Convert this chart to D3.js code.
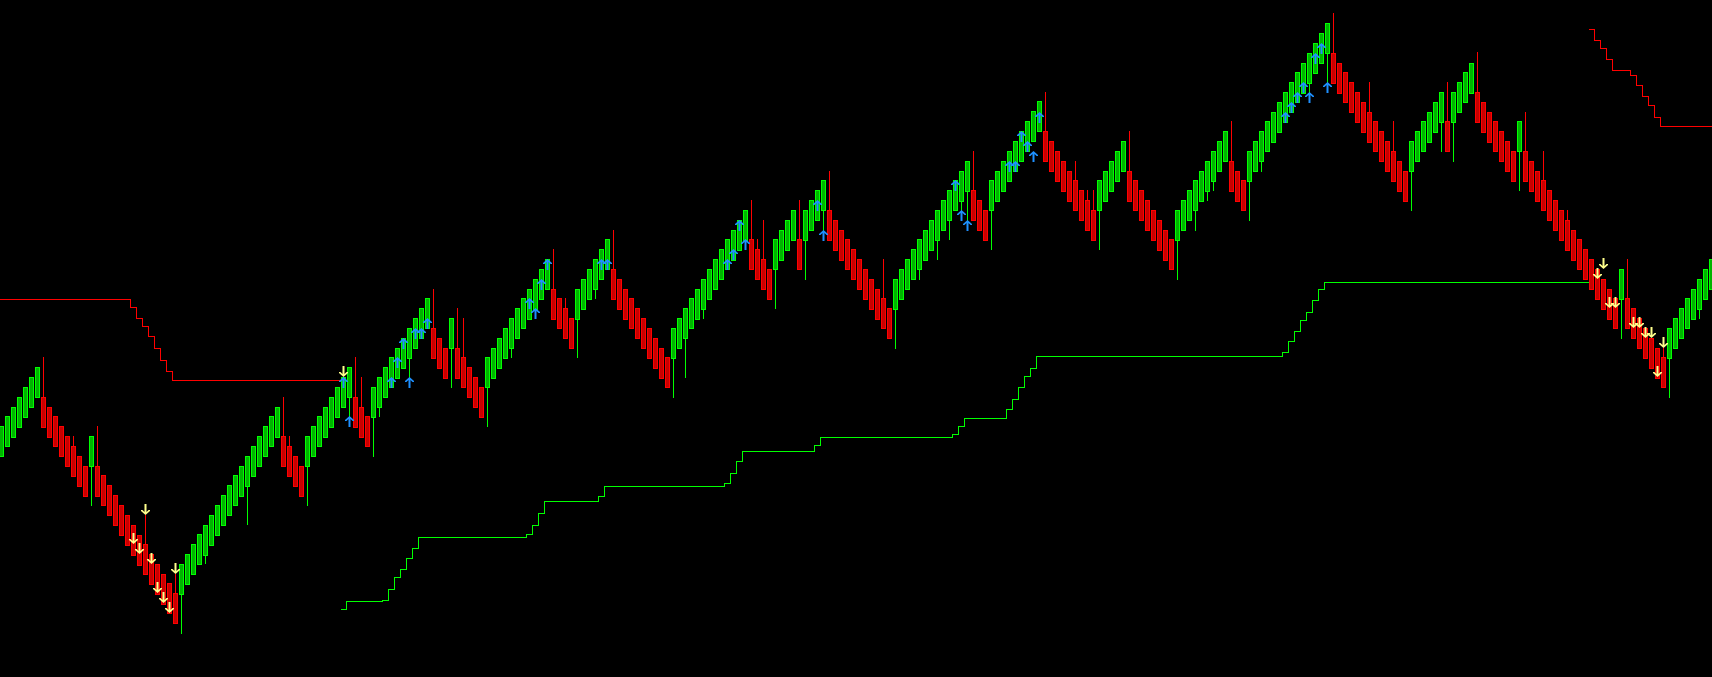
<!DOCTYPE html>
<html>
<head>
<meta charset="utf-8">
<script src="https://cdn.jsdelivr.net/npm/d3@7/dist/d3.min.js"></script>
<style>
html,body{margin:0;padding:0;background:#000;overflow:hidden;}
svg{display:block;}
</style>
</head>
<body>
<svg id="chart" width="1712" height="677"></svg>
<script>
// price values in points
const open = [
244,254,263,273,283,293,303,303,293,284,
274,264,254,244,234,234,234,225,215,205,
195,185,175,165,156,146,136,126,117,107,
106,116,126,136,145,155,165,175,185,195,
204,214,224,234,244,254,263,264,254,244,
234,234,244,254,263,273,283,293,303,303,
293,284,283,293,303,313,322,332,342,352,
362,372,372,362,352,352,352,343,333,323,
313,313,322,332,342,352,362,372,381,391,
401,411,411,402,392,382,381,391,401,411,
421,431,431,421,411,402,392,382,372,362,
352,343,342,352,362,372,381,391,401,411,
421,431,440,450,460,461,451,441,431,431,
440,450,460,461,460,470,480,490,490,480,
470,461,451,441,431,421,411,402,392,391,
401,411,421,431,440,450,460,470,480,490,
499,509,510,500,490,490,499,509,519,529,
539,549,559,569,569,559,549,539,529,520,
510,500,490,490,499,509,519,529,529,520,
510,500,490,480,470,461,460,470,480,490,
499,509,519,529,539,539,529,520,519,529,
539,549,558,568,578,588,598,607,617,627,
637,647,647,637,628,618,608,598,588,579,
569,559,549,539,529,529,539,549,558,568,
578,579,578,588,598,607,608,598,588,579,
569,559,549,549,549,539,529,520,510,500,
490,480,470,461,451,441,431,421,411,402,
401,402,392,382,372,362,352,343,342,352,
362,372,381,391,401,411];
const close = [
274,284,293,303,313,323,333,273,263,254,
244,234,224,214,204,264,204,195,185,175,
165,155,145,135,126,116,106,96,87,77,
136,146,156,166,175,185,195,205,215,225,
234,244,254,264,274,284,293,234,224,214,
204,264,274,284,293,303,313,323,333,273,
263,254,313,323,333,343,352,362,372,382,
392,402,342,332,322,382,322,313,303,293,
283,343,352,362,372,382,392,402,411,421,
431,441,381,372,362,352,411,421,431,441,
451,461,401,391,381,372,362,352,342,332,
322,313,372,382,392,402,411,421,431,441,
451,461,470,480,490,431,421,411,401,461,
470,480,490,431,490,500,510,520,460,450,
440,431,421,411,401,391,381,372,362,421,
431,441,451,461,470,480,490,500,510,520,
529,539,480,470,460,520,529,539,549,559,
569,579,589,599,539,529,519,509,499,490,
480,470,460,520,529,539,549,559,499,490,
480,470,460,450,440,431,490,500,510,520,
529,539,549,559,569,509,499,490,549,559,
569,579,588,598,608,618,628,637,647,657,
667,677,617,607,598,588,578,568,558,549,
539,529,519,509,499,559,569,579,588,598,
608,549,608,618,628,637,578,568,558,549,
539,529,519,579,519,509,499,490,480,470,
460,450,440,431,421,411,401,391,381,372,
431,372,362,352,342,332,322,313,372,382,
392,402,411,421,431,441];
const high = [
274,284,293,303,313,323,333,343,293,284,
274,264,264,244,234,264,274,225,215,205,
195,185,175,165,185,146,136,126,117,126,
136,146,156,166,175,185,195,205,215,225,
234,244,254,264,274,284,293,303,264,244,
234,264,274,284,293,303,313,323,333,343,
323,284,313,323,333,343,352,362,372,382,
392,402,411,362,352,382,392,382,333,323,
313,343,352,362,372,382,392,402,411,421,
431,441,451,402,402,382,411,421,431,441,
451,461,470,421,411,402,392,382,372,362,
352,343,372,382,392,402,411,421,431,441,
451,461,470,480,490,500,461,480,431,461,
470,480,490,500,490,500,510,520,529,480,
470,461,451,441,431,421,411,441,392,421,
431,441,451,461,470,480,490,500,510,520,
529,539,549,500,490,520,529,539,549,559,
569,579,589,599,608,559,549,539,529,539,
510,510,510,520,529,539,549,559,569,520,
510,500,490,480,470,461,490,500,510,520,
529,539,549,559,569,579,529,520,549,559,
569,579,588,598,608,618,628,637,647,657,
667,677,687,637,628,618,608,598,618,579,
569,559,579,539,529,559,569,579,588,598,
608,618,608,618,628,637,648,598,588,579,
569,559,549,579,588,539,529,549,510,500,
490,490,470,461,451,441,431,421,411,402,
431,441,392,382,372,362,352,352,372,382,
392,402,411,421,431,441];
const low = [
244,254,263,273,283,293,303,273,263,254,
244,234,224,214,204,195,204,195,185,175,
165,155,145,135,126,116,106,96,87,77,
67,116,126,136,137,155,165,175,185,195,
204,176,224,234,244,254,263,234,224,214,
204,195,244,254,263,273,283,293,283,273,
263,254,244,284,303,313,322,332,323,352,
362,372,342,332,322,313,322,313,303,293,
283,274,322,332,342,343,362,372,381,391,
401,411,381,372,362,352,343,391,401,402,
421,431,401,391,381,372,362,352,342,332,
322,313,303,352,323,372,381,382,401,411,
421,431,440,450,460,431,421,411,401,392,
440,450,460,431,421,470,480,470,460,450,
440,431,421,411,401,391,381,372,362,352,
401,411,421,421,440,450,441,470,461,490,
490,480,480,470,460,451,499,509,519,529,
539,549,559,569,539,529,519,509,499,490,
480,470,460,451,499,509,519,529,499,490,
480,470,460,450,440,431,421,470,480,470,
499,500,510,529,539,509,499,490,480,529,
529,549,558,568,578,588,598,607,608,627,
637,618,617,607,598,588,578,568,558,549,
539,529,519,509,499,490,539,549,558,568,
549,549,539,588,598,607,578,568,558,549,
539,529,519,510,519,509,499,490,480,470,
460,450,440,431,421,411,401,391,381,372,
362,372,362,352,342,332,322,313,303,352,
362,372,381,382,401,411];

// step lines: [fromBar, toBar, level]
const resistanceRuns = [[0,21,401],[22,22,393],[23,23,382],[24,24,374],[25,25,364],[26,26,352],[27,27,340],[28,28,329],[29,56,320],
  [265,265,671],[266,266,660],[267,267,652],[268,268,641],[269,271,630],[272,272,625],[273,273,615],[274,274,604],[275,275,595],[276,276,583],[277,285,574]];
const supportRuns = [[57,57,91],[58,63,99],[64,64,100],[65,65,111],[66,66,123],[67,67,131],[68,68,142],[69,69,152],[70,87,163],[88,88,166],[89,89,175],[90,90,187],[91,99,199],[100,100,204],[101,120,214],[121,121,217],[122,122,227],[123,123,239],[124,135,249],[136,136,255],[137,158,263],[159,159,266],[160,160,274],[161,167,282],[168,168,291],[169,169,301],[170,170,313],[171,171,324],[172,172,332],[173,213,344],[214,214,348],[215,215,359],[216,216,369],[217,217,380],[218,218,388],[219,219,400],[220,220,411],[221,264,418]];

// signal arrows: [bar, level]
const buyArrows = [[57,323],[58,284],[65,323],[66,343],[67,362],[68,323],[69,372],[70,372],[71,382],[88,402],[89,392],[90,421],[91,441],[100,441],[101,441],[121,441],[122,451],[123,480],[124,461],[136,500],[137,470],[159,520],[160,490],[161,480],[168,539],[169,539],[170,569],[171,559],[172,549],[173,588],[214,588],[215,598],[216,608],[217,618],[218,608],[219,647],[220,657],[221,618]];
const sellArrows = [[22,167],[23,157],[24,196],[25,147],[26,118],[27,108],[28,98],[29,137],[57,334],[266,432],[267,442],[268,403],[269,403],[272,383],[273,383],[274,373],[275,373],[276,334],[277,363]];

const W = 1712, H = 677;
const svg = d3.select('#chart');
svg.append('rect').attr('width', W).attr('height', H).attr('fill', '#000');

const n = open.length;
const x = d3.scaleLinear().domain([0, n - 1]).range([1.5, 1.5 + 6 * (n - 1)]);
const y = d3.scaleLinear().domain([23, 700]).range([677, 0]);

const bars = d3.range(n).map(i => ({i, o: open[i], h: high[i], l: low[i], c: close[i], up: close[i] >= open[i]}));

const colors = {upStroke: '#00ff00', upFill: '#00b400', dnStroke: '#ff0000', dnFill: '#c80000'};

// step lines
function stepPaths(runs) {
  const segs = [];
  let cur = null, prevTo = null;
  runs.forEach(r => {
    if (cur === null || r[0] !== prevTo + 1) { cur = []; segs.push(cur); }
    cur.push([x(r[0]) - 3, y(r[2]) + 0.5]);
    cur.push([x(r[1]) + 3, y(r[2]) + 0.5]);
    prevTo = r[1];
  });
  return segs;
}
const line = d3.line();
const gLines = svg.append('g').attr('fill', 'none').attr('stroke-width', 1).attr('shape-rendering', 'crispEdges');
stepPaths(resistanceRuns).forEach(s => gLines.append('path').attr('d', line(s)).attr('stroke', '#ff0000'));
stepPaths(supportRuns).forEach(s => gLines.append('path').attr('d', line(s)).attr('stroke', '#00ff00'));

// candles
const gC = svg.append('g').attr('shape-rendering', 'crispEdges');
gC.selectAll('line.wick').data(bars).join('line')
  .attr('class', 'wick')
  .attr('x1', d => x(d.i)).attr('x2', d => x(d.i))
  .attr('y1', d => y(d.h)).attr('y2', d => y(d.l) + 1)
  .attr('stroke', d => d.up ? colors.upStroke : colors.dnStroke)
  .attr('stroke-width', 1);
gC.selectAll('rect.body').data(bars).join('rect')
  .attr('class', 'body')
  .attr('x', d => x(d.i) - 2)
  .attr('width', 4)
  .attr('y', d => y(Math.max(d.o, d.c)) + 0.5)
  .attr('height', d => Math.max(1, y(Math.min(d.o, d.c)) - y(Math.max(d.o, d.c))))
  .attr('fill', d => d.up ? colors.upFill : colors.dnFill)
  .attr('stroke', d => d.up ? colors.upStroke : colors.dnStroke)
  .attr('stroke-width', 1);

// arrows
const upPath = 'M0,0 L-4.5,4 L-4.5,5 L-3,5 L-1,3 L-1,11 L1,11 L1,3 L3,5 L4.5,5 L4.5,4 Z';
const dnPath = 'M0,11 L-4.5,7 L-4.5,6 L-3,6 L-1,8 L-1,0 L1,0 L1,8 L3,6 L4.5,6 L4.5,7 Z';
const gA = svg.append('g');
gA.selectAll('path.buy').data(buyArrows).join('path')
  .attr('class', 'buy')
  .attr('d', upPath)
  .attr('transform', d => `translate(${x(d[0])},${y(d[1])})`)
  .attr('fill', '#1e90ff');
gA.selectAll('path.sell').data(sellArrows).join('path')
  .attr('class', 'sell')
  .attr('d', dnPath)
  .attr('transform', d => `translate(${x(d[0])},${y(d[1])})`)
  .attr('fill', '#ffff8c');
</script>
</body>
</html>
